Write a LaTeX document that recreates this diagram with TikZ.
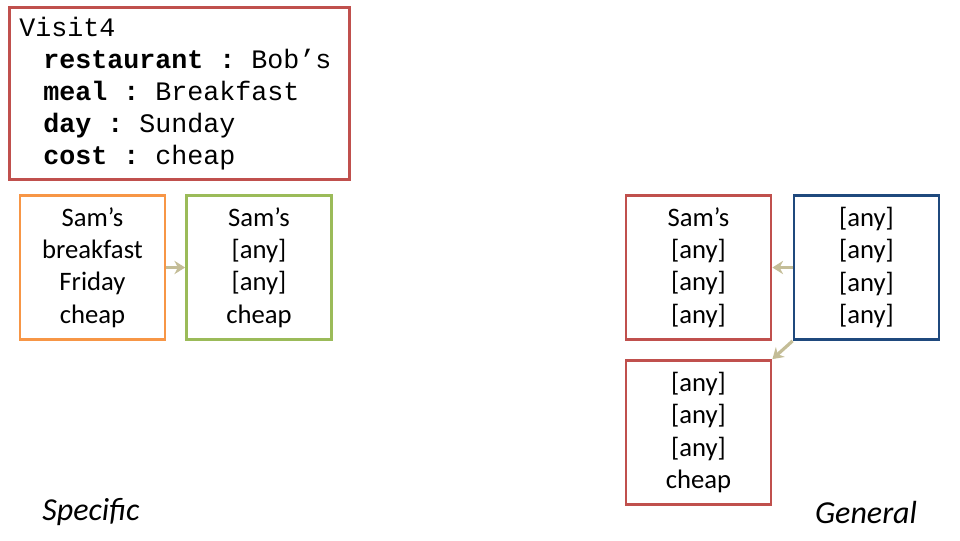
\documentclass[tikz,border=0pt]{standalone}
\usepackage{fontspec}
\setmainfont{Carlito}
\newfontfamily\codefont{Liberation Mono}
\usetikzlibrary{arrows.meta}
\definecolor{boxred}{HTML}{C0504D}
\definecolor{boxorange}{HTML}{F79646}
\definecolor{boxgreen}{HTML}{9BBB59}
\definecolor{boxblue}{HTML}{1F497D}
\definecolor{linktan}{HTML}{C4BD97}
\newcommand\anyval{{[any]}}
\newcommand\msp{\hspace*{12pt}}
\newcommand\indentcode{\hspace*{18pt}}
\begin{document}
\begin{tikzpicture}[x=0.75pt,y=-0.75pt]
\useasboundingbox (0,0) rectangle (960,540);
\tikzset{
  boxline/.style={line width=2.1pt},
  card/.style={rectangle, boxline, minimum width=108.75pt, minimum height=108pt,
    align=center, inner sep=0pt, font=\fontsize{20}{24.3}\selectfont},
  link/.style={draw=linktan, line width=2.4pt, -{Stealth[length=8pt,width=10pt]}},
  sidelabel/.style={font=\fontsize{24}{28}\selectfont\itshape}
}
\node[draw=boxred, boxline, anchor=north west, minimum width=255pt,
  minimum height=129pt, text width=240pt, inner xsep=7.5pt, inner ysep=0pt, align=left,
  font=\codefont\fontsize{20}{24}\selectfont] (visit) at (8,6)
  {Visit4\\
   \indentcode\textbf{restaurant}\msp\textbf{:}\msp Bob’s\\
   \indentcode\textbf{meal}\msp\textbf{:}\msp Breakfast\\
   \indentcode\textbf{day}\msp\textbf{:}\msp Sunday\\
   \indentcode\textbf{cost}\msp\textbf{:}\msp cheap};
\node[card, draw=boxorange] (s1) at (92.5,267.5) {Sam’s\\breakfast\\Friday\\cheap};
\node[card, draw=boxgreen] (s2) at (259,267.5) {Sam’s\\\anyval\\\anyval\\cheap};
\node[card, draw=boxred] (g1) at (698.5,267.5) {Sam’s\\\anyval\\\anyval\\\anyval};
\node[card, draw=boxblue] (g0) at (866.5,267.5) {\anyval\\\anyval\\\anyval\\\anyval};
\node[card, draw=boxred] (g2) at (698.5,432.5) {\anyval\\\anyval\\\anyval\\cheap};
\draw[link] (s1.east) -- (s2.west);
\draw[link] (g0.west) -- (g1.east);
\draw[link] (g0.south west) -- (g2.north east);
\node[sidelabel] (spec) at (91,512) {Specific};
\node[sidelabel] (gen) at (866,512) {General};
\end{tikzpicture}
\end{document}
